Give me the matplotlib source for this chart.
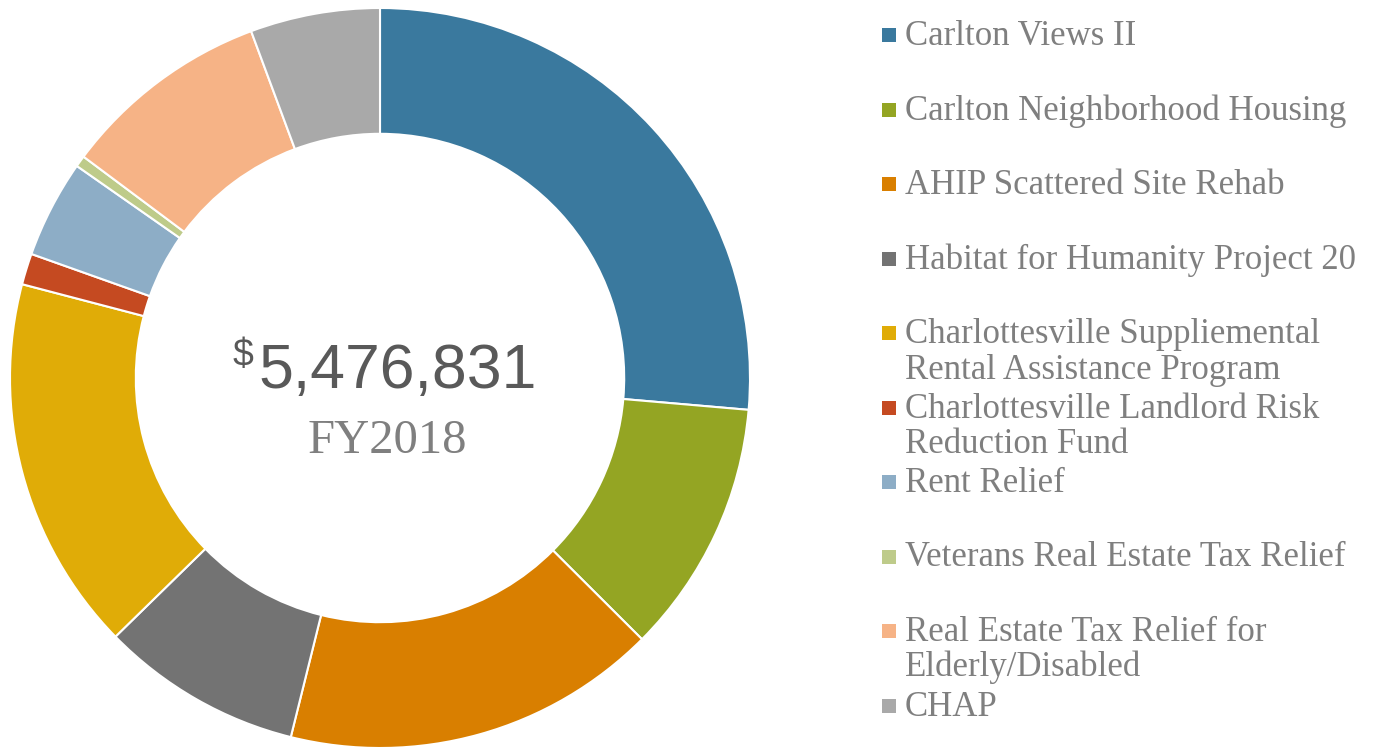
import matplotlib
matplotlib.use("Agg")
import matplotlib.pyplot as plt
from matplotlib.patches import Rectangle

# --- data (FY2018 affordable housing funding, $) ------------------------
labels = [
    "Carlton Views II",
    "Carlton Neighborhood Housing",
    "AHIP Scattered Site Rehab",
    "Habitat for Humanity Project 20",
    "Charlottesville Suppliemental\nRental Assistance Program",
    "Charlottesville Landlord Risk\nReduction Fund",
    "Rent Relief",
    "Veterans Real Estate Tax Relief",
    "Real Estate Tax Relief for\nElderly/Disabled",
    "CHAP",
]
amounts = [1444000, 608000, 898000, 482000, 898000,
           74500, 234000, 27000, 500000, 310000]
colors = ["#3A799E", "#94A523", "#D97F00", "#737373", "#E0AC07",
          "#C54A21", "#8DADC6", "#BECB8A", "#F6B386", "#A9A9A9"]
total_text = "5,476,831"
year_text = "FY2018"

W, H = 1379, 748
fig = plt.figure(figsize=(W / 100, H / 100), dpi=100)

# donut: centre (380, 378) px, outer radius 370 px
cx, cy, R = 380, 378, 370
ax = fig.add_axes([(cx - R) / W, (H - cy - R) / H, 2 * R / W, 2 * R / H])
ax.pie(amounts, colors=colors, startangle=90, counterclock=False, radius=1.0,
       wedgeprops=dict(width=0.34, edgecolor="white", linewidth=1.5))
ax.set_xlim(-1, 1); ax.set_ylim(-1, 1)
ax.set_aspect("equal")
ax.axis("off")

# overlay in pixel coords for text + legend
ov = fig.add_axes([0, 0, 1, 1])
ov.set_xlim(0, W); ov.set_ylim(H, 0)
ov.axis("off")

ov.text(258, 388, total_text, fontsize=45, color="#595959",
        family="Liberation Sans", ha="left", va="baseline")
ov.text(253, 366, "$", fontsize=27, color="#595959",
        family="Liberation Sans", ha="right", va="baseline")
ov.text(387, 453, year_text, fontsize=35, color="#7F7F7F",
        family="Liberation Serif", ha="center", va="baseline")

# legend: one slot per entry, marker on first line, wrapped lines hang below
y0, step, line_h = 45, 74.5, 35.5
for i, (lab, col) in enumerate(zip(labels, colors)):
    yb = y0 + i * step
    ov.add_patch(Rectangle((882, yb - 17), 14, 14, facecolor=col, edgecolor="none"))
    for k, line in enumerate(lab.split("\n")):
        ov.text(905, yb + k * line_h, line, fontsize=25, color="#7F7F7F",
                family="Liberation Serif", ha="left", va="baseline")

fig.savefig("out.png", dpi=100)
